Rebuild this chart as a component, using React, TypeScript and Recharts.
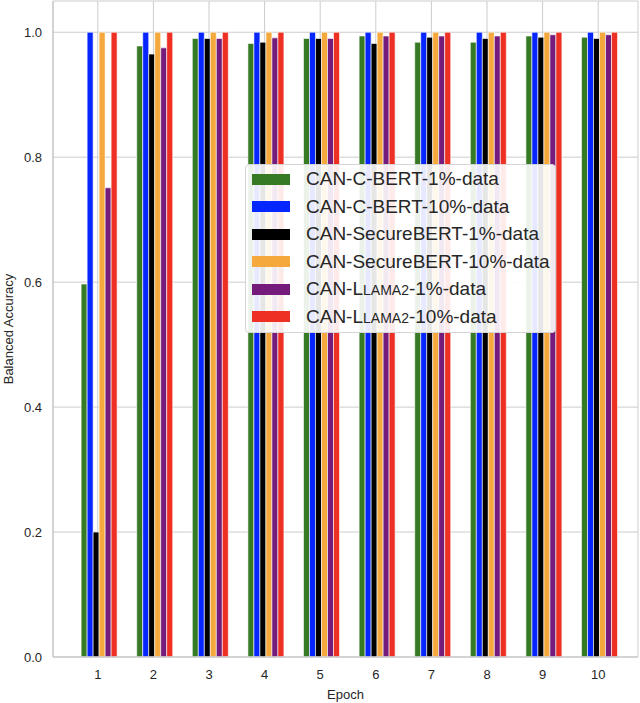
import React from 'react';
import { BarChart, Bar, XAxis, YAxis, CartesianGrid } from 'recharts';

const epochs = ['1', '2', '3', '4', '5', '6', '7', '8', '9', '10'];
const cbert1 = [0.597, 0.978, 0.99, 0.982, 0.99, 0.994, 0.984, 0.984, 0.994, 0.992];
const cbert10 = [1.0, 1.0, 1.0, 1.0, 1.0, 1.0, 1.0, 1.0, 1.0, 1.0];
const secure1 = [0.2, 0.965, 0.99, 0.984, 0.99, 0.982, 0.992, 0.99, 0.992, 0.99];
const secure10 = [1.0, 1.0, 1.0, 1.0, 1.0, 1.0, 1.0, 1.0, 1.0, 1.0];
const llama1 = [0.751, 0.975, 0.99, 0.991, 0.99, 0.994, 0.994, 0.994, 0.996, 0.996];
const llama10 = [1.0, 1.0, 1.0, 1.0, 1.0, 1.0, 1.0, 1.0, 1.0, 1.0];
const yTicks = [0, 0.2, 0.4, 0.6, 0.8, 1.0];

const series = [
  { key: 'cbert1', color: '#367a24', pre: 'CAN-C-BERT-1%-data' },
  { key: 'cbert10', color: '#0626ff', pre: 'CAN-C-BERT-10%-data' },
  { key: 'secure1', color: '#000000', pre: 'CAN-SecureBERT-1%-data' },
  { key: 'secure10', color: '#f5a83c', pre: 'CAN-SecureBERT-10%-data' },
  { key: 'llama1', color: '#741b7c', pre: 'CAN-L', caps: 'LAMA2', post: '-1%-data' },
  { key: 'llama10', color: '#ee3024', pre: 'CAN-L', caps: 'LAMA2', post: '-10%-data' },
];

const data = epochs.map((e, i) => ({
  epoch: e,
  cbert1: cbert1[i],
  cbert10: cbert10[i],
  secure1: secure1[i],
  secure10: secure10[i],
  llama1: llama1[i],
  llama10: llama10[i],
}));

const font = '"Liberation Sans", Arial, sans-serif';
const frame = '#cccccc';
const textColor = '#262626';

function ChartLegend() {
  return (
    <div
      style={{
        position: 'absolute',
        left: 245,
        top: 164,
        width: 311,
        height: 169,
        background: 'rgba(255,255,255,0.9)',
        border: '1px solid #d5d5d5',
        borderRadius: 4,
        boxSizing: 'border-box',
        fontFamily: font,
        fontSize: 19,
        color: textColor,
      }}
    >
      {series.map((s, i) => (
        <div key={s.key} style={{ position: 'absolute', left: 6, top: 4 + i * 27.5, height: 20, display: 'flex', alignItems: 'center', whiteSpace: 'nowrap' }}>
          <span style={{ display: 'inline-block', width: 38, height: 11, background: s.color, marginRight: 16 }} />
          <span>
            {s.pre}
            {s.caps && <span style={{ fontSize: 14 }}>{s.caps}</span>}
            {s.post}
          </span>
        </div>
      ))}
    </div>
  );
}

export default function App() {
  return (
    <div style={{ position: 'absolute', left: 0, top: 0, width: 640, height: 703, background: '#fff', fontFamily: font }}>
      <BarChart
        width={640}
        height={703}
        data={data}
        margin={{ top: 1, right: 2, bottom: 0, left: 0 }}
        barCategoryGap="20%"
        barGap={0}
      >
        <CartesianGrid stroke={frame} strokeWidth={1} />
        <XAxis
          dataKey="epoch"
          height={46}
          padding={{ left: 17, right: 12 }}
          tickLine={false}
          tickSize={0}
          tickMargin={13}
          axisLine={{ stroke: frame, strokeWidth: 1.5 }}
          tick={{ fill: textColor, fontSize: 13, fontFamily: font }}
          label={{ value: 'Epoch', position: 'insideBottom', offset: 4, fill: textColor, fontSize: 13, fontFamily: font }}
        />
        <XAxis xAxisId="top" orientation="top" dataKey="epoch" height={0} tick={false} tickLine={false} axisLine={{ stroke: frame, strokeWidth: 1.5 }} />
        <YAxis
          domain={[0, 1.05]}
          ticks={yTicks}
          width={53}
          tickLine={false}
          tickSize={0}
          tickMargin={11}
          allowDataOverflow
          tickFormatter={(v: number) => v.toFixed(1)}
          axisLine={{ stroke: frame, strokeWidth: 1.5 }}
          tick={{ fill: textColor, fontSize: 13, fontFamily: font }}
          label={{ value: 'Balanced Accuracy', angle: -90, position: 'insideLeft', offset: 8, style: { textAnchor: 'middle' }, fill: textColor, fontSize: 13, fontFamily: font }}
        />
        <YAxis yAxisId="right" orientation="right" domain={[0, 1.05]} width={0} tick={false} tickLine={false} axisLine={{ stroke: frame, strokeWidth: 1.5 }} />
        {series.map((s) => (
          <Bar key={s.key} dataKey={s.key} fill={s.color} stroke="#ffffff" strokeWidth={0.6} isAnimationActive={false} />
        ))}
      </BarChart>
      <ChartLegend />
    </div>
  );
}
